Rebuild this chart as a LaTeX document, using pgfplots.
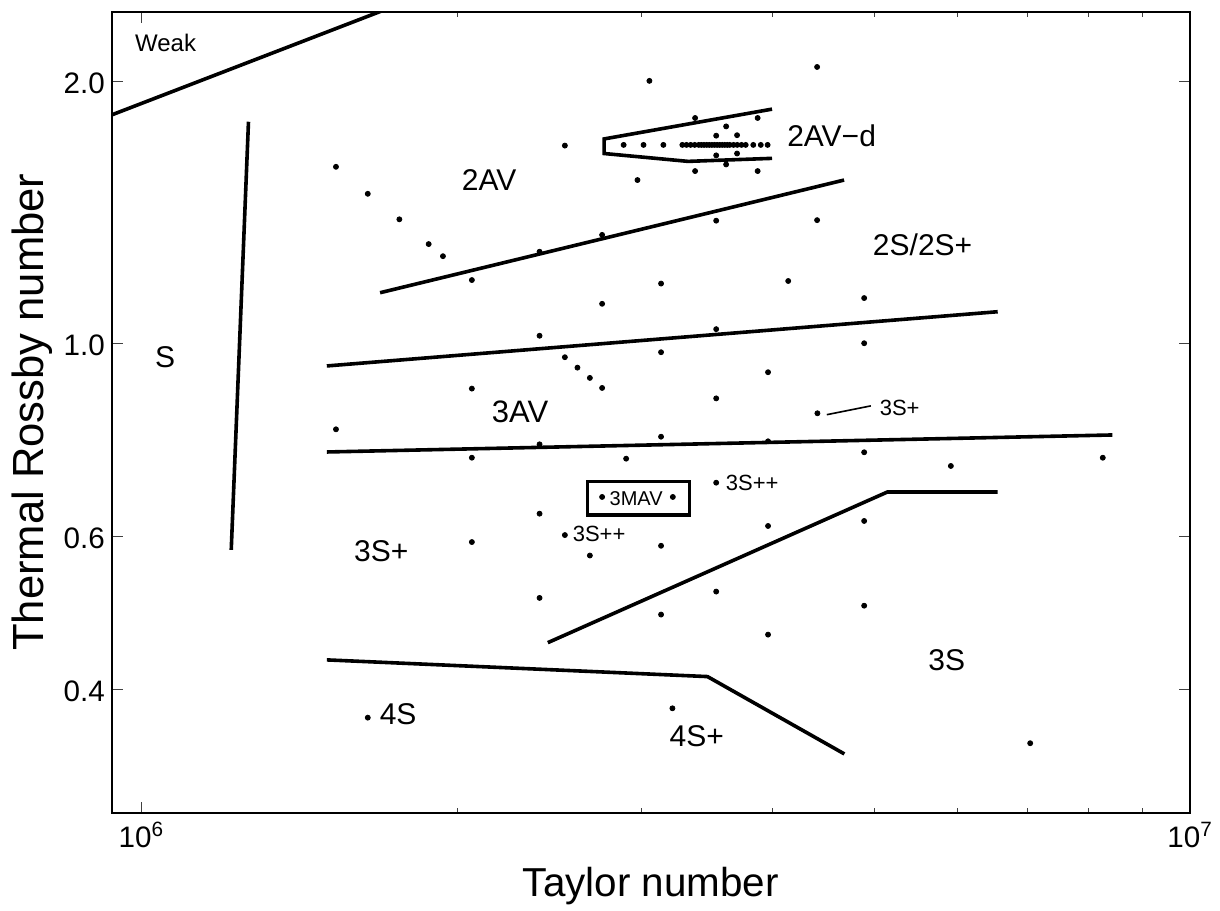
\documentclass[border=0pt]{standalone}
\usepackage{fontspec}
\setmainfont{Liberation Sans}
\usepackage{pgfplots}
\pgfplotsset{compat=1.18}
\begin{document}
\begin{tikzpicture}
\begin{axis}[
  name=ax,
  scale only axis,
  width=539.15pt, height=400.5pt,
  xmode=log, ymode=log,
  xmin=9.37e5, xmax=1e7,
  ymin=0.2888, ymax=2.404,
  xtick={1e6,1e7},
  xticklabels={10\textsuperscript{6},10\textsuperscript{7}},
  minor xtick={2e6,3e6,4e6,5e6,6e6,7e6,8e6,9e6},
  ytick={0.4,0.6,1,2},
  yticklabels={0.4,0.6,1.0,2.0},
  minor ytick={},
  tick align=inside,
  major tick length=5.5pt,
  minor tick length=2.5pt,
  tick style={line width=0.5pt, color=black!75},
  axis line style={line width=0.8pt},
  /pgf/number format/assume math mode=true,
  ticklabel style={font=\fontsize{14.8}{17}\selectfont},
  yticklabel style={yshift=-1pt},
  xticklabel style={yshift=-1.3pt},
  xlabel={Taylor number},
  ylabel={Thermal Rossby number},
  xlabel style={at={(axis description cs:0.5,-0.1049)}, anchor=base, font=\fontsize{20.2}{24}\selectfont},
  ylabel style={at={(axis description cs:-0.0637,0.5)}, anchor=base, font=\fontsize{21.8}{25}\selectfont},
  clip=true,
]
% data points
\addplot[only marks, mark=*, mark size=1.25pt, black] coordinates {
(1.533e6,1.595) (1.644e6,1.485) (1.762e6,1.388) (1.879e6,1.300) (1.939e6,1.259)
(2.066e6,1.182) (2.397e6,1.274) (2.750e6,1.332) (2.534e6,1.687) (3.051e6,2.002)
(2.972e6,1.540) (4.409e6,2.077) (3.373e6,1.815) (3.870e6,1.815) (3.611e6,1.775)
(3.533e6,1.732) (3.699e6,1.734) (3.533e6,1.644) (3.699e6,1.652) (3.611e6,1.605)
(3.373e6,1.577) (3.870e6,1.577)
(2.883e6,1.69) (3.012e6,1.69) (3.146e6,1.69)
(3.28e6,1.69) (3.31e6,1.69) (3.34e6,1.69) (3.37e6,1.69) (3.40e6,1.69) (3.42e6,1.69)
(3.44e6,1.69) (3.46e6,1.69) (3.48e6,1.69) (3.50e6,1.69) (3.52e6,1.69) (3.54e6,1.69)
(3.56e6,1.69) (3.58e6,1.69) (3.60e6,1.69) (3.62e6,1.69) (3.64e6,1.69) (3.67e6,1.69)
(3.70e6,1.69) (3.735e6,1.69) (3.77e6,1.69) (3.833e6,1.69) (3.897e6,1.69) (3.956e6,1.69)
(3.130e6,1.171) (4.138e6,1.179) (3.533e6,1.383) (4.409e6,1.385) (4.889e6,1.127)
(2.750e6,1.110) (2.397e6,1.020) (3.533e6,1.038) (3.130e6,0.9765) (2.534e6,0.9637)
(2.605e6,0.9375) (2.677e6,0.9124) (2.750e6,0.8885) (2.066e6,0.8869) (3.959e6,0.9262)
(4.889e6,1.000) (3.533e6,0.8643) (4.412e6,0.8309) (1.533e6,0.7965) (3.130e6,0.7811)
(2.397e6,0.7655) (3.959e6,0.7716) (2.066e6,0.7388) (2.899e6,0.7369) (4.889e6,0.7495)
(5.914e6,0.7228) (8.256e6,0.7388) (3.533e6,0.6915) (2.750e6,0.6659) (3.212e6,0.6659)
(2.397e6,0.6371) (2.534e6,0.6020) (2.066e6,0.5910) (3.959e6,0.6167) (3.130e6,0.5852)
(2.677e6,0.5703) (4.889e6,0.6249) (3.533e6,0.5184) (2.397e6,0.5098) (3.130e6,0.4878)
(3.959e6,0.4626) (4.889e6,0.4994) (1.644e6,0.3714) (3.209e6,0.3807) (7.040e6,0.3471)
};
% regime boundaries
\addplot[no markers, black, line width=1.8pt] coordinates {(0.912e6,1.807) (1.7378e6,2.4369)};
\addplot[no markers, black, line width=1.8pt] coordinates {(1.265e6,1.797) (1.218e6,0.5789)};
\addplot[no markers, black, line width=1.8pt] coordinates {(1.689e6,1.143) (4.678e6,1.540)};
\addplot[no markers, black, line width=1.8pt] coordinates {(1.5025e6,0.9417) (6.555e6,1.087)};
\addplot[no markers, black, line width=1.8pt] coordinates {(1.5025e6,0.7501) (8.432e6,0.7846)};
\addplot[no markers, black, line width=1.8pt] coordinates {(2.441e6,0.4529) (5.145e6,0.6747) (6.555e6,0.6747)};
\addplot[no markers, black, line width=1.8pt] coordinates {(1.5025e6,0.4327) (3.466e6,0.4140) (4.681e6,0.3374)};
\addplot[no markers, black, line width=1.8pt] coordinates {(3.994e6,1.858) (2.762e6,1.717) (2.762e6,1.652) (3.321e6,1.618) (3.994e6,1.631)};
\addplot[no markers, black, line width=1.8pt] coordinates {(2.663e6,0.6941) (3.331e6,0.6941) (3.331e6,0.6344) (2.663e6,0.6344)} -- cycle;
\addplot[no markers, black, line width=0.8pt] coordinates {(4.504e6,0.8278) (4.961e6,0.8473)};
% labels
\node[font=\fontsize{12}{14}\selectfont] at (axis cs:1.0546e6,2.2131) {Weak};
\node[font=\fontsize{15}{18}\selectfont] at (axis cs:1.0534e6,0.9644) {S};
\node[font=\fontsize{15}{18}\selectfont] at (axis cs:2.1455e6,1.5402) {2AV};
\node[font=\fontsize{15}{18}\selectfont, anchor=west, inner sep=0pt] at (axis cs:4.1258e6,1.7308) {2AV−d};
\node[font=\fontsize{15}{18}\selectfont] at (axis cs:5.5585e6,1.2984) {2S/2S+};
\node[font=\fontsize{15.5}{18}\selectfont] at (axis cs:2.2967e6,0.8344) {3AV};
\node[font=\fontsize{15}{18}\selectfont] at (axis cs:1.6935e6,0.5776) {3S+};
\node[font=\fontsize{10}{12}\selectfont] at (axis cs:2.9634e6,0.6629) {3MAV};
\node[font=\fontsize{11}{13}\selectfont, anchor=west, inner sep=0pt] at (axis cs:3.6056e6,0.6904) {3S++};
\node[font=\fontsize{11}{13}\selectfont, anchor=west, inner sep=0pt] at (axis cs:2.5764e6,0.6044) {3S++};
\node[font=\fontsize{11}{13}\selectfont, anchor=west, inner sep=0pt] at (axis cs:5.0555e6,0.8419) {3S+};
\node[font=\fontsize{15}{18}\selectfont] at (axis cs:5.8614e6,0.4327) {3S};
\node[font=\fontsize{15}{18}\selectfont, anchor=west, inner sep=0pt] at (axis cs:1.6864e6,0.3750) {4S};
\node[font=\fontsize{15}{18}\selectfont] at (axis cs:3.3853e6,0.3538) {4S+};
\end{axis}
\pgfresetboundingbox
\path[use as bounding box] ([shift={(-55.85pt,-48.65pt)}]ax.south west) rectangle ([shift={(15pt,5.85pt)}]ax.north east);
\end{tikzpicture}
\end{document}
